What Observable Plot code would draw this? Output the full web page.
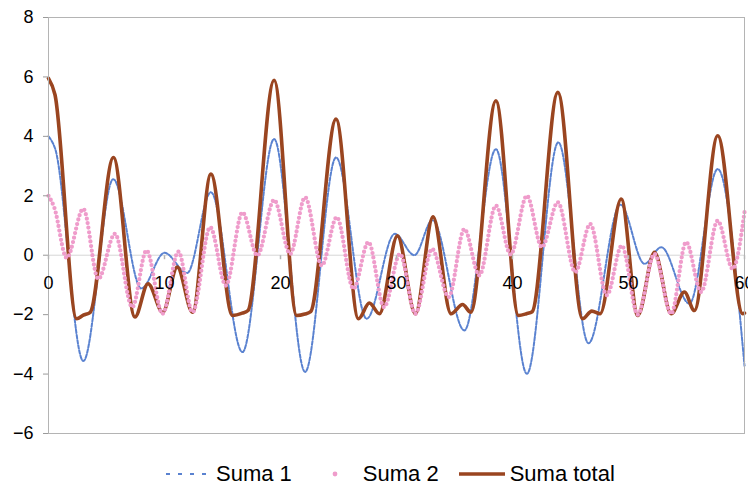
<!DOCTYPE html>
<html><head><meta charset="utf-8">
<script src="https://cdn.jsdelivr.net/npm/d3@7"></script>
<script src="https://cdn.jsdelivr.net/npm/@observablehq/plot@0.6"></script>
<style>
body{margin:0;background:#fff;font-family:"Liberation Sans",Arial,sans-serif;}
#wrap{position:relative;width:748px;height:488px;overflow:hidden;}
#legend{position:absolute;top:461px;left:164px;display:flex;align-items:center;font-size:22px;line-height:26px;color:#000;white-space:nowrap;}
.item{display:flex;align-items:center;margin-right:19px;}
.item svg{margin-right:4px;}
</style></head><body><div id="wrap"><div id="chart"></div><div id="legend"></div></div>
<script>
const seriesNames = ["Suma 1", "Suma 2", "Suma total"];
const seriesColors = ["#5a82d0", "#ef9ccb", "#9a4520"];

const suma1X = [0, 0.56, 3.0, 5.58, 8.0, 10.0, 11.95, 14.0, 16.72, 19.45, 22.12, 24.79, 27.43, 29.85, 31.54, 33.1, 35.85, 38.57, 41.24, 43.95, 46.55, 49.3, 51.38, 52.82, 55.25, 57.69, 60];
const suma1Y = [4.0, 3.6, -3.56, 2.56, -1.12, 0.08, -0.6, 2.12, -3.26, 3.91, -3.93, 3.29, -2.14, 0.72, 0.0, 1.18, -2.53, 3.57, -3.99, 3.8, -2.96, 1.7, -0.29, 0.27, -1.63, 2.9, -3.72];

const suma2X = [0, 0.5, 1.57, 3.0, 4.29, 5.73, 7.22, 8.45, 9.83, 11.2, 12.42, 13.94, 15.29, 16.72, 18.0, 19.45, 20.83, 22.12, 23.56, 24.85, 26.29, 27.58, 28.93, 30.3, 31.63, 33.06, 34.5, 35.85, 37.14, 38.57, 39.84, 41.24, 42.53, 43.91, 45.41, 46.7, 48.13, 49.42, 50.8, 52.24, 53.68, 54.97, 56.26, 57.69, 58.98, 60];
const suma2Y = [2.0, 1.6, -0.09, 1.56, -0.8, 0.72, -1.75, 0.16, -1.97, 0.12, -1.92, 0.94, -1.02, 1.44, -0.01, 1.86, 0.04, 1.95, -0.35, 1.28, -1.13, 0.44, -1.75, 0.04, -1.97, 0.21, -1.41, 0.88, -0.68, 1.67, 0.02, 2.0, 0.27, 1.78, -0.57, 1.05, -1.35, 0.32, -2.0, 0.04, -1.97, 0.44, -1.24, 1.16, -0.46, 1.45];

const totalX = [0, 0.56, 2.43, 3.0, 3.6, 5.6, 7.45, 8.58, 9.85, 11.1, 12.42, 14.0, 15.86, 16.7, 17.2, 19.45, 21.4, 22.1, 22.6, 24.79, 26.72, 27.66, 28.53, 30.08, 31.63, 33.15, 34.7, 35.7, 36.4, 38.57, 40.52, 41.2, 41.7, 43.91, 46.04, 46.84, 47.55, 49.37, 50.8, 52.24, 53.68, 54.82, 55.68, 57.69, 59.85, 60];
const totalY = [5.95, 5.4, -2.14, -2.02, -1.92, 3.29, -2.08, -0.96, -1.92, -0.4, -1.92, 2.73, -2.03, -1.95, -1.86, 5.89, -2.03, -1.98, -1.9, 4.58, -2.14, -1.61, -1.97, 0.65, -1.97, 1.29, -1.97, -1.66, -1.92, 5.2, -2.03, -1.97, -1.9, 5.48, -2.14, -1.88, -1.97, 1.89, -2.03, 0.1, -1.97, -1.24, -1.86, 4.02, -1.97, -1.95];

const xTicks = [0, 10, 20, 30, 40, 50, 60];
const yTicks = [-6, -4, -2, 0, 2, 4, 6, 8];

const toRows = (xs, ys) => xs.map((x, i) => ({x, y: ys[i]}));
const s1 = toRows(suma1X, suma1Y);
const s2 = toRows(suma2X, suma2Y);
const st = toRows(totalX, totalY);

const tickSymbol = {draw(ctx) { ctx.moveTo(0, 0); ctx.lineTo(0, 4); }};

const chart = Plot.plot({
  width: 748, height: 446,
  marginLeft: 48, marginRight: 4, marginTop: 17, marginBottom: 13,
  style: {fontFamily: "'Liberation Sans', Arial, sans-serif", background: "#fff", color: "#000"},
  x: {domain: [0, 60], axis: null},
  y: {domain: [-6, 8], axis: null},
  marks: [
    Plot.ruleY([0], {stroke: "#d6d6d6", strokeWidth: 1}),
    Plot.line(s1, {x: "x", y: "y", stroke: seriesColors[0], strokeWidth: 2, strokeDasharray: "3.5 1.8", curve: "monotone-x"}),
    Plot.line(st, {x: "x", y: "y", stroke: seriesColors[2], strokeWidth: 3.6, curve: "monotone-x"}),
    Plot.line(s2, {x: "x", y: "y", stroke: seriesColors[1], strokeWidth: 4.3, strokeDasharray: "0 4.6", strokeLinecap: "round", curve: "monotone-x"}),
    Plot.frame({stroke: "#b4b4b4"}),
    Plot.axisY(yTicks, {tickSize: 5, tickPadding: 10, fontSize: 18, stroke: "#9a9a9a", label: null}),
    Plot.dot(xTicks, {x: d => d, y: 0, symbol: tickSymbol, stroke: "#b4b4b4", fill: "none"}),
    Plot.text(xTicks, {x: d => d, y: 0, dy: 28, text: d => String(d), fontSize: 18, fill: "#000"})
  ]
});
document.getElementById("chart").appendChild(chart);

const legend = document.getElementById("legend");
const swatches = [
  `<svg width="48" height="12"><line x1="2" y1="6" x2="48" y2="6" stroke="${seriesColors[0]}" stroke-width="2.2" stroke-dasharray="4 8"/></svg>`,
  `<svg width="48" height="12"><circle cx="24" cy="6" r="2.4" fill="${seriesColors[1]}"/></svg>`,
  `<svg width="48" height="12"><line x1="1" y1="6" x2="47" y2="6" stroke="${seriesColors[2]}" stroke-width="3.6"/></svg>`
];
seriesNames.forEach((name, i) => {
  const d = document.createElement("div");
  d.className = "item";
  d.innerHTML = swatches[i] + `<span>${name}</span>`;
  legend.appendChild(d);
});
</script>
</body></html>
